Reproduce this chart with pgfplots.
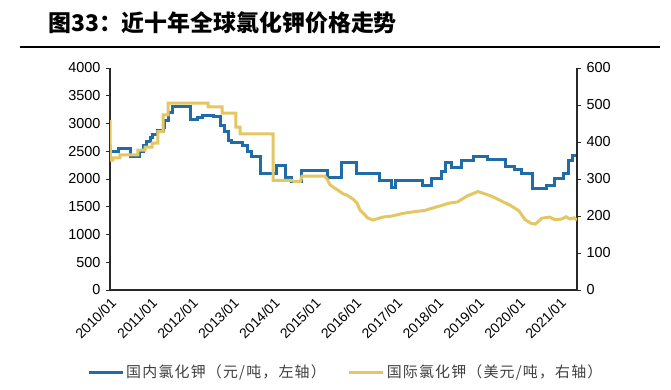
\documentclass[border=0pt]{standalone}
\usepackage{pgfplots}
\pgfplotsset{compat=1.18}
\usepackage{fontspec}
\setmainfont{Liberation Sans}
\newfontfamily\cjk{Noto Sans CJK SC}
\newfontfamily\cjkleg{Noto Sans CJK SC}[LetterSpace=8]
\definecolor{dblue}{RGB}{31,108,168}
\definecolor{dyel}{RGB}{228,198,98}
\definecolor{axgray}{RGB}{40,40,40}
\begin{document}
\begin{tikzpicture}
\useasboundingbox (-110bp,-100bp) rectangle (561bp,290bp);
\node[anchor=west,inner sep=0pt] at (-62bp,267bp) {\cjk\bfseries\fontsize{23}{23}\selectfont 图33：近十年全球氯化钾价格走势};
\draw[line width=2bp,black] (-90bp,243bp) -- (550bp,243bp);
\begin{axis}[
  at={(0bp,0bp)}, anchor=south west,
  scale only axis, width=467bp, height=222bp,
  xmin=2010, xmax=2021.42,
  ymin=0, ymax=4000,
  ytick={0,500,...,4000},
  xtick={2010,...,2021},
  xticklabels={2010/01,2011/01,2012/01,2013/01,2014/01,2015/01,2016/01,2017/01,2018/01,2019/01,2020/01,2021/01},
  axis y line*=left, axis x line*=bottom,
  axis line style={axgray,line width=1.1bp,-},
  x axis line style={-},
  y axis line style={-},
  major x tick style={draw=none},
  major y tick style={axgray,line width=1bp},
  tick align=outside, major tick length=4bp,
  /pgf/number format/assume math mode=true,
  /pgf/number format/1000 sep={},
  tick label style={font=\fontsize{14.5}{14.5}\selectfont, text=black},
  x tick label style={font=\fontsize{14}{14}\selectfont, rotate=45, anchor=north east, inner sep=2bp},
  yticklabel style={xshift=-2bp},
]
\addplot[const plot, dblue, line width=3bp] coordinates {
(2010.00,2500) (2010.20,2550) (2010.49,2400) (2010.73,2500) (2010.81,2600) (2010.90,2680) (2010.98,2750) (2011.05,2800) (2011.15,2870) (2011.30,2920) (2011.34,3050) (2011.42,3190) (2011.52,3300) (2011.96,3070) (2012.13,3100) (2012.27,3150) (2012.52,3120) (2012.69,2970) (2012.81,2850) (2012.89,2700) (2012.98,2650) (2013.25,2600) (2013.37,2500) (2013.47,2400) (2013.67,2100) (2014.08,2250) (2014.30,2020) (2014.45,1950) (2014.69,2150) (2015.31,2020) (2015.67,2300) (2016.04,2100) (2016.60,1980) (2016.89,1850) (2016.97,1980) (2017.65,1880) (2017.87,2010) (2018.10,2130) (2018.20,2290) (2018.35,2200) (2018.60,2330) (2018.88,2400) (2019.22,2350) (2019.66,2230) (2019.90,2170) (2020.07,2100) (2020.34,1830) (2020.68,1890) (2020.86,2010) (2021.08,2100) (2021.20,2340) (2021.30,2430) (2021.42,2430)
};
\end{axis}
\begin{axis}[
  at={(0bp,0bp)}, anchor=south west,
  scale only axis, width=467bp, height=222bp,
  xmin=2010, xmax=2021.42,
  ymin=0, ymax=600,
  ytick={0,100,...,600},
  axis y line*=right, axis x line=none,
  y axis line style={axgray,line width=1.1bp,-},
  major y tick style={axgray,line width=1bp},
  tick align=outside, major tick length=4bp,
  /pgf/number format/assume math mode=true,
  tick label style={font=\fontsize{14.5}{14.5}\selectfont, text=black},
  yticklabel style={xshift=2bp},
  legend columns=2,
  legend style={at={(0.505,-0.37)}, anchor=center, draw=none, fill=none,
    font=\cjkleg\fontsize{15}{15}\selectfont, text=black!75,
    /tikz/every even column/.append style={column sep=20bp}},
  legend image code/.code={\draw[#1] (0bp,0bp) -- (34bp,0bp);},
]
\addlegendimage{dblue, line width=3bp}
\addlegendentry{国内氯化钾（元/吨，左轴）}
\addplot[dyel, line width=3bp] coordinates {
(2010.00,460) (2010.01,351) (2010.07,351) (2010.07,357) (2010.24,357) (2010.24,365) (2010.68,365) (2010.68,378) (2010.86,378) (2010.86,386) (2011.03,386) (2011.03,397) (2011.17,397) (2011.17,428) (2011.30,428) (2011.30,473) (2011.42,473) (2011.42,505) (2012.40,505) (2012.40,495) (2012.74,495) (2012.74,478) (2013.08,478) (2013.08,440) (2013.18,440) (2013.18,422) (2013.99,422) (2013.99,296) (2014.45,296) (2014.50,293) (2014.65,293) (2014.70,308) (2015.25,308) (2015.31,300) (2015.38,284) (2015.50,275) (2015.57,270) (2015.70,260) (2015.79,257) (2015.95,245) (2016.04,235) (2016.12,215) (2016.19,208) (2016.30,195) (2016.43,189) (2016.55,193) (2016.67,197) (2016.90,200) (2017.16,207) (2017.46,212) (2017.70,215) (2017.87,221) (2018.10,228) (2018.26,234) (2018.50,238) (2018.60,245) (2018.75,255) (2019.00,266) (2019.22,258) (2019.40,250) (2019.58,240) (2019.80,228) (2020.00,214) (2020.15,190) (2020.30,180) (2020.40,178) (2020.56,194) (2020.75,197) (2020.88,190) (2021.05,192) (2021.15,198) (2021.25,192) (2021.35,195) (2021.42,189)
};
\addlegendentry{国际氯化钾（美元/吨，右轴）}
\end{axis}
\end{tikzpicture}
\end{document}
